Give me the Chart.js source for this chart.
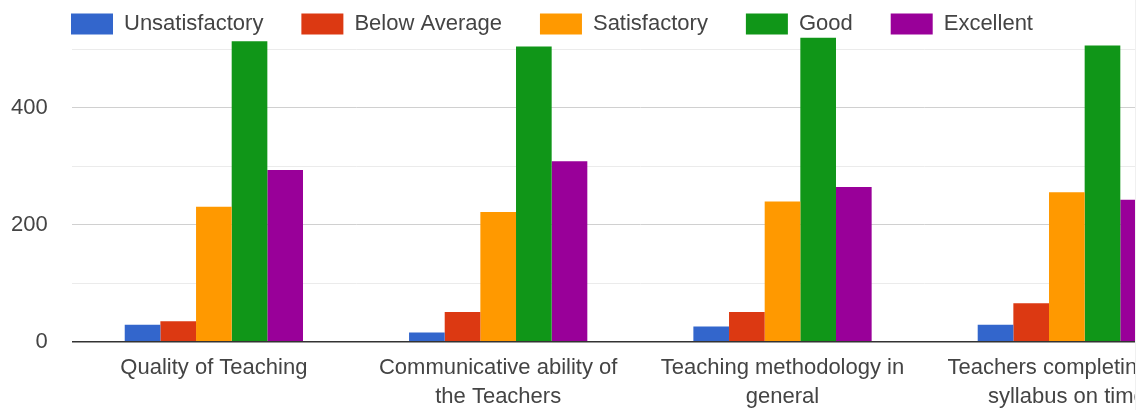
<!DOCTYPE html>
<html>
<head>
<meta charset="utf-8">
<script src="https://cdn.jsdelivr.net/npm/chart.js@4"></script>
<style>
  html, body { margin: 0; padding: 0; background: #fff; overflow: hidden; }
  #clip { width: 1135px; height: 410px; overflow: hidden; border-right: 1px solid #f0f0f0; }
  #wrap { width: 1209px; height: 410px; position: relative; }
</style>
</head>
<body>
<div id="clip"><div id="wrap"><canvas id="myChart"></canvas></div></div>
<script>
const categories = [
    'Quality of Teaching',
    ['Communicative ability of', 'the Teachers'],
    ['Teaching methodology in', 'general'],
    ['Teachers completing the', 'syllabus on time']
];
const unsatisfactory = [29, 16, 26, 29];
const belowAverage = [35, 51, 51, 66];
const satisfactory = [231, 222, 240, 256];
const good = [514, 505, 520, 507];
const excellent = [294, 309, 265, 243];
const yTicks = [0, 200, 400];

Chart.defaults.font.family = "'Liberation Sans', Arial, sans-serif";
Chart.defaults.font.size = 22;
Chart.defaults.color = '#444';

function bar(label, data, color) {
    return { label: label, data: data, backgroundColor: color, borderWidth: 0,
             barPercentage: 1.0, categoryPercentage: 0.627 };
}

// legend starts in line with the plot, and its text may hang over the plot top
const legendOffset = {
    id: 'legendOffset',
    afterLayout(chart) {
        chart.legend.left += 33;
        chart.legend.bottom += 10;
    }
};

const ctx = document.getElementById('myChart').getContext('2d');
new Chart(ctx, {
    type: 'bar',
    data: {
        labels: categories,
        datasets: [
            bar('Unsatisfactory', unsatisfactory, '#3366cc'),
            bar('Below Average', belowAverage, '#dc3912'),
            bar('Satisfactory', satisfactory, '#ff9900'),
            bar('Good', good, '#109618'),
            bar('Excellent', excellent, '#990099')
        ]
    },
    plugins: [legendOffset],
    options: {
        responsive: true,
        maintainAspectRatio: false,
        animation: false,
        layout: { padding: { top: -25, left: 0, right: 0, bottom: -13 } },
        plugins: {
            tooltip: { enabled: false },
            legend: {
                position: 'top',
                align: 'start',
                maxHeight: 57,
                labels: { boxWidth: 42, boxHeight: 21, padding: 38, color: '#444' }
            }
        },
        scales: {
            x: {
                grid: { display: false, drawTicks: false },
                border: { display: false },
                ticks: { padding: 12, maxRotation: 0, autoSkip: false,
                         font: { size: 22, lineHeight: 1.3 } }
            },
            y: {
                min: 0,
                max: 530,
                border: { display: false },
                grid: {
                    drawTicks: false,
                    color: (c) => c.tick.value === 0 ? '#333' : (yTicks.includes(c.tick.value) ? '#d0d0d0' : '#ebebeb'),
                    lineWidth: (c) => c.tick.value === 0 ? 1.5 : 1
                },
                ticks: {
                    stepSize: 100,
                    includeBounds: false,
                    padding: 24,
                    callback: (v) => yTicks.includes(v) ? v : ''
                },
                afterFit: (scale) => {
                    scale.width = 71.7;
                    scale.paddingTop = 0;
                    scale.paddingBottom = 0;
                }
            }
        }
    }
});
</script>
</body>
</html>
